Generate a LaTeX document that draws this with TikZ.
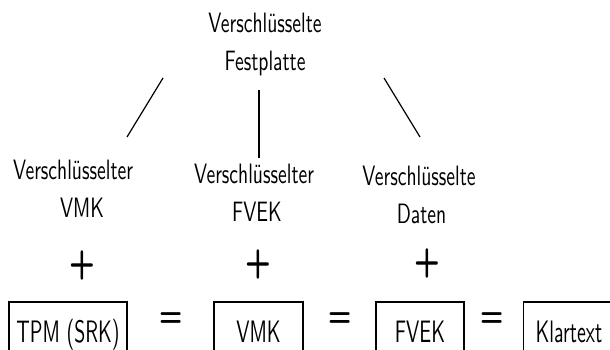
\documentclass[tikz,border=0pt]{standalone}
\usepackage{fontspec}
\newfontfamily\lblfont{lmsans10-regular.otf}[FakeStretch=0.70]
\newfontfamily\boxfont{lmsans10-regular.otf}[FakeStretch=0.64]
\newfontfamily\eqfont{lmsans10-bold.otf}[FakeStretch=0.8]
\newfontfamily\plusfont{lmsans10-bold.otf}[FakeStretch=0.75]
\tikzset{
  lbl/.style={align=center, inner sep=0pt, font=\lblfont\fontsize{28}{38}\selectfont},
  keybox/.style={draw, line width=1.2pt, inner xsep=0pt, minimum height=65pt,
    text height=22pt, text depth=7pt, font=\boxfont\fontsize{31}{36}\selectfont},
  plussign/.style={inner sep=0pt, font=\plusfont\fontsize{40}{42}\selectfont},
  eqsign/.style={inner sep=0pt, font=\eqfont\fontsize{34}{36}\selectfont},
  link/.style={line width=1.2pt}
}
\begin{document}
\begin{tikzpicture}[x=1pt, y=-1pt]
\useasboundingbox (0,0) rectangle (610,349);
\clip (0,0) rectangle (610,349);
% labels
\node[lbl] (disk) at (265,44) {Verschlüsselte\\Festplatte};
\node[lbl] (evmk) at (73,189) {Verschlüsselter\\\hspace*{18pt}VMK};
\node[lbl] (efvek) at (254,193) {Verschlüsselter\\\hspace*{6pt}FVEK};
\node[lbl] (edata) at (419,195) {Verschlüsselte\\\hspace*{5pt}Daten};
% connectors
\coordinate (l1a) at (163,78);
\coordinate (l1b) at (127,137);
\coordinate (l2a) at (259,90);
\coordinate (l2b) at (259,158);
\coordinate (l3a) at (384,78);
\coordinate (l3b) at (420,137);
\draw[link] (l1a) -- (l1b);
\draw[link] (l2a) -- (l2b);
\draw[link] (l3a) -- (l3b);
% plus signs
\node[plussign] (p1) at (82,265) {+};
\node[plussign] (p2) at (258,264) {+};
\node[plussign] (p3) at (427,263) {+};
% boxes
\node[keybox, minimum width=118pt] (tpm) at (68,334.5) {TPM (SRK)};
\node[keybox, minimum width=89pt] (vmk) at (258.5,334.5) {VMK};
\node[keybox, minimum width=88pt] (fvek) at (420,334.5) {FVEK};
\node[keybox, anchor=west, inner xsep=12pt] (klar) at (523,334.5) {Klartext};
% equals
\node[eqsign] (e1) at (171,320) {=};
\node[eqsign] (e2) at (340,320) {=};
\node[eqsign] (e3) at (492,320) {=};
\end{tikzpicture}
\end{document}
